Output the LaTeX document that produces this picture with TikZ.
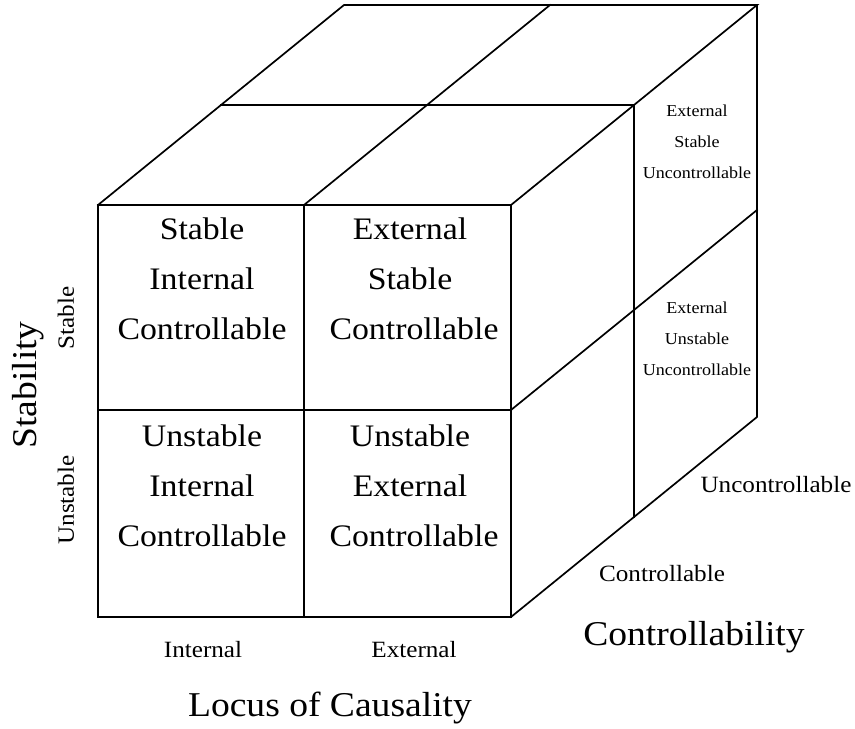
\documentclass[tikz,border=0pt]{standalone}
\usepackage{fontspec}
\setmainfont{Liberation Serif}[FakeStretch=1.08]
\begin{document}
\begin{tikzpicture}[x=1pt,y=-1pt,
  edge/.style={line width=1.7pt,line join=miter,line cap=rect},
  celltext/.style={anchor=base,inner sep=0pt,font=\fontsize{31.3}{31.3}\selectfont},
  sidetext/.style={anchor=base,inner sep=0pt,font=\fontsize{16.7}{16.7}\selectfont},
  axislabel/.style={anchor=base,inner sep=0pt,font=\fontsize{23.3}{23.3}\selectfont},
  axistitle/.style={anchor=base,inner sep=0pt,font=\fontsize{34.8}{34.8}\selectfont}]
\useasboundingbox (0,0) rectangle (855,729);
% front face
\coordinate (fa) at (98,205);  \coordinate (fb) at (304,205); \coordinate (fc) at (511,205);
\coordinate (fd) at (98,410);  \coordinate (fe) at (304,410); \coordinate (ff) at (511,410);
\coordinate (fg) at (98,617);  \coordinate (fh) at (304,617); \coordinate (fi) at (511,617);
% middle depth
\coordinate (ma) at (221,105); \coordinate (mc) at (634,105); \coordinate (mi) at (634,517);
% back
\coordinate (ba) at (344,5);   \coordinate (bb) at (550,5);   \coordinate (bc) at (757,5);
\coordinate (bf) at (757,210); \coordinate (bi) at (757,417);
% outline and divisions
\draw[edge] (fa) rectangle (fi);
\draw[edge] (fb) -- (fh);
\draw[edge] (fd) -- (ff);
\draw[edge] (fa) -- (ba) -- (bc) -- (fc);
\draw[edge] (fb) -- (bb);
\draw[edge] (ma) -- (mc) -- (mi);
\draw[edge] (bc) -- (bi) -- (fi);
\draw[edge] (ff) -- (bf);
% front cells
\node[celltext] (s1) at (202,239) {Stable};
\node[celltext] (s2) at (202,289) {Internal};
\node[celltext] (s3) at (202,339) {Controllable};
\node[celltext] (e1) at (410,239) {External};
\node[celltext] (e2) at (410,289) {Stable};
\node[celltext] (e3) at (414,339) {Controllable};
\node[celltext] (u1) at (202,446) {Unstable};
\node[celltext] (u2) at (202,496) {Internal};
\node[celltext] (u3) at (202,546) {Controllable};
\node[celltext] (x1) at (410,446) {Unstable};
\node[celltext] (x2) at (410,496) {External};
\node[celltext] (x3) at (414,546) {Controllable};
% right face cells
\node[sidetext] (r1) at (697,116) {External};
\node[sidetext] (r2) at (697,147) {Stable};
\node[sidetext] (r3) at (697,178) {Uncontrollable};
\node[sidetext] (q1) at (697,313) {External};
\node[sidetext] (q2) at (697,344) {Unstable};
\node[sidetext] (q3) at (697,375) {Uncontrollable};
% axis labels
\node[axislabel] (li) at (203,657) {Internal};
\node[axislabel] (le) at (414,657) {External};
\node[axislabel,anchor=center,rotate=90] (ls) at (66,318) {Stable};
\node[axislabel,anchor=center,rotate=90] (lu) at (66,500) {Unstable};
\node[axislabel] (lc) at (662,581) {Controllable};
\node[axislabel] (lx) at (776,492) {Uncontrollable};
% axis titles
\node[axistitle] (tl) at (330,716) {Locus of Causality};
\node[axistitle] (tc) at (694,645) {Controllability};
\node[axistitle,anchor=center,rotate=90] (ts) at (28,385) {Stability};
\end{tikzpicture}
\end{document}
